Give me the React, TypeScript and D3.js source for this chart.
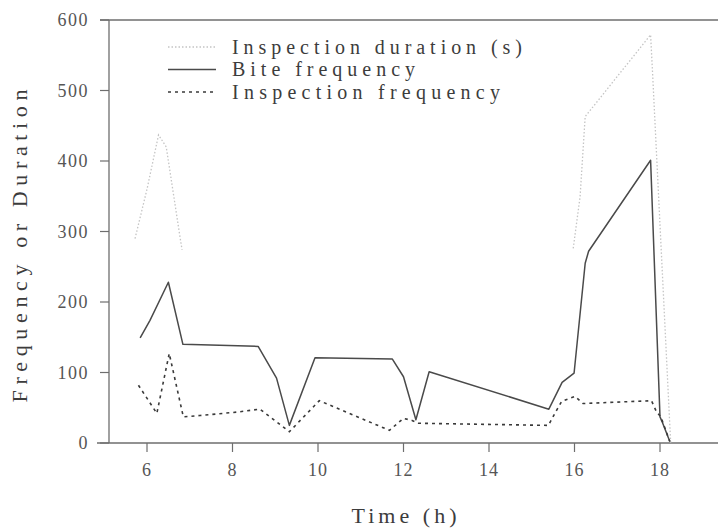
import React from "react";
import * as d3 from "d3";

// ---- data ----
const xTicks = [6, 8, 10, 12, 14, 16, 18];
const yTicks = [0, 100, 200, 300, 400, 500, 600];

const biteTime = [5.84, 6.07, 6.5, 6.84, 8.6, 9.03, 9.33, 9.93, 11.74, 12.0, 12.29, 12.6, 15.4, 15.71, 15.99, 16.25, 16.33, 17.78, 18.0, 18.05, 18.23];
const biteFreq = [149, 174, 228, 140, 137, 92, 25, 121, 119, 94, 33, 101, 48, 86, 99, 255, 272, 401, 37, 30, 2];

const inspTime = [5.8, 6.23, 6.52, 6.85, 7.24, 8.13, 8.64, 9.33, 10.03, 11.67, 12.0, 12.2, 12.35, 15.39, 15.54, 15.7, 16.01, 16.2, 17.8, 17.92, 18.02, 18.23];
const inspFreq = [82, 42, 127, 37, 39, 44, 48, 16, 60, 18, 35, 32, 28, 25, 42, 59, 66, 56, 60, 44, 37, 2];

// faint series: only the visible fragments (null = gap)
const durTime = [5.72, 6.0, 6.27, 6.45, 6.77, 6.82, 6.9, 15.97, 16.13, 16.25, 17.78, 17.83, 18.25];
const durVal = [290, 360, 437, 420, 293, 274, null, 276, 349, 463, 579, 520, 0];

const legendLabels = ["Inspection duration (s)", "Bite frequency", "Inspection frequency"];

export default function App() {
  const W = 718, H = 528;
  const x = d3.scaleLinear().domain([6, 18]).range([147, 660]);
  const y = d3.scaleLinear().domain([0, 600]).range([443, 20]);
  const axisX = x.invert(109);
  const line = d3
    .line<[number, number | null]>()
    .defined((d) => d[1] !== null)
    .x((d) => x(d[0]))
    .y((d) => y(d[1] as number));

  const bite = line(biteTime.map((t, i) => [t, biteFreq[i]]));
  const insp = line(inspTime.map((t, i) => [t, inspFreq[i]]));
  const dur = line(durTime.map((t, i) => [t, durVal[i]]));

  const font = "'Liberation Serif', 'Times New Roman', serif";
  const textCol = "#3c3c3c";
  const axisCol = "#6e6e6e";

  const legendStyles = [
    { stroke: "#c4c4c4", dash: "1.5,2", width: 1.3 },
    { stroke: "#4a4a4a", dash: "", width: 1.5 },
    { stroke: "#3a3a3a", dash: "3,4", width: 1.6 },
  ];
  const legendWidths = [290, 183, 268];

  return (
    <svg width={W} height={H} style={{ position: "absolute", left: 0, top: 0, background: "#fff" }}>
      {/* frame top line */}
      <line x1={100} x2={W} y1={y(600)} y2={y(600)} stroke={axisCol} strokeWidth={1.3} />
      {/* y axis */}
      <line x1={x(axisX)} x2={x(axisX)} y1={y(600)} y2={y(0)} stroke={axisCol} strokeWidth={1.3} />
      {/* x axis */}
      <line x1={97} x2={W} y1={y(0)} y2={y(0)} stroke={axisCol} strokeWidth={1.3} />

      {yTicks.map((v) => (
        <g key={"y" + v}>
          <line x1={100} x2={109} y1={y(v)} y2={y(v)} stroke={axisCol} strokeWidth={1.2} />
          <text x={89} y={y(v) + 6} textAnchor="end" fontFamily={font} fontSize={18} fill="#555" letterSpacing={1.5}>
            {v}
          </text>
        </g>
      ))}
      {xTicks.map((t) => (
        <g key={"x" + t}>
          <line x1={x(t)} x2={x(t)} y1={y(0)} y2={y(0) + 9} stroke={axisCol} strokeWidth={1.2} />
          <text x={x(t)} y={476} textAnchor="middle" fontFamily={font} fontSize={18} fill="#555" letterSpacing={1}>
            {t}
          </text>
        </g>
      ))}

      {/* series */}
      <path d={dur || ""} fill="none" stroke="#c4c4c4" strokeWidth={1.3} strokeDasharray="1.5,2" />
      <path d={bite || ""} fill="none" stroke="#4a4a4a" strokeWidth={1.5} strokeLinejoin="round" />
      <path d={insp || ""} fill="none" stroke="#3a3a3a" strokeWidth={1.6} strokeDasharray="3,4" />

      {/* legend */}
      {legendLabels.map((lab, i) => {
        const cy = 47 + i * 22.5;
        const s = legendStyles[i];
        return (
          <g key={lab}>
            <line x1={168} x2={216} y1={cy} y2={cy} stroke={s.stroke} strokeWidth={s.width} strokeDasharray={s.dash || undefined} />
            <text x={232} y={cy + 6.5} fontFamily={font} fontSize={20} fill={textCol} textLength={legendWidths[i]} lengthAdjust="spacing">
              {lab}
            </text>
          </g>
        );
      })}

      {/* axis titles */}
      <text x={404} y={523} textAnchor="middle" fontFamily={font} fontSize={22} fill={textCol} textLength={105} lengthAdjust="spacing">
        Time (h)
      </text>
      <text
        transform={`translate(27, 246) rotate(-90)`}
        textAnchor="middle"
        fontFamily={font}
        fontSize={22}
        fill={textCol}
        textLength={313}
        lengthAdjust="spacing"
      >
        Frequency or Duration
      </text>
    </svg>
  );
}
